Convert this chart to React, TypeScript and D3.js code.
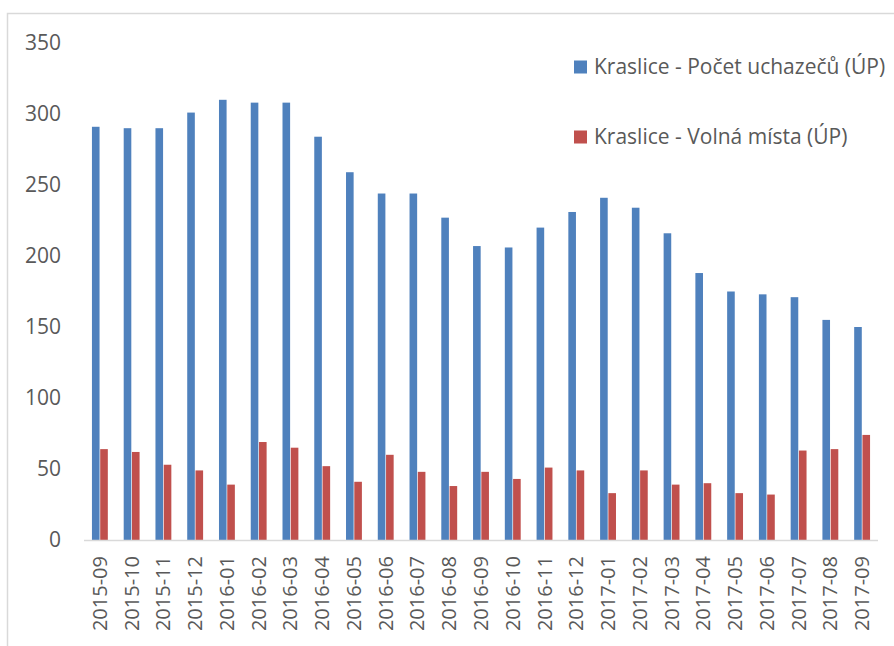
import React from "react";
import * as d3 from "d3";

const categories = ["2015-09","2015-10","2015-11","2015-12","2016-01","2016-02","2016-03","2016-04","2016-05","2016-06","2016-07","2016-08","2016-09","2016-10","2016-11","2016-12","2017-01","2017-02","2017-03","2017-04","2017-05","2017-06","2017-07","2017-08","2017-09"];
const uchazeci = [291,290,290,301,310,308,308,284,259,244,244,227,207,206,220,231,241,234,216,188,175,173,171,155,150];
const volnaMista = [64,62,53,49,39,69,65,52,41,60,48,38,48,43,51,49,33,49,39,40,33,32,63,64,74];
const seriesNames = ["Kraslice - Počet uchazečů (ÚP)", "Kraslice - Volná místa (ÚP)"];
const seriesColors = ["#4f81bd", "#c0504d"];
const yTicks = [0,50,100,150,200,250,300,350];

export default function App() {
  const W = 894, H = 646;
  const x = d3.scaleBand<string>().domain(categories).range([84, 878]).paddingInner(0.5).paddingOuter(0.25);
  const x1 = d3.scaleBand<string>().domain(["a","b"]).range([0, x.bandwidth()]).paddingInner(0.08);
  const y = d3.scaleLinear().domain([0, 350]).range([540, 43]);
  const font = "'Open Sans', sans-serif";
  const textColor = "#595959";
  const series = [uchazeci, volnaMista];
  return (
    <svg width={W} height={H} style={{ position: "absolute", left: 0, top: 0, background: "#fff" }} fontFamily={font}>
      <rect x={7.5} y={13.5} width={1000} height={1000} fill="#fff" stroke="#d9d9d9" strokeWidth={1.5} />
      {yTicks.map(t => (
        <text key={t} x={61} y={y(t)} dy="0.35em" textAnchor="end" fontSize={21} fill={textColor}>{t}</text>
      ))}
      {series.map((vals, si) => (
        <g key={si}>
          {vals.map((v, i) => (
            <rect key={i} x={(x(categories[i]) ?? 0) + (x1(si === 0 ? "a" : "b") ?? 0)} y={y(v)} width={x1.bandwidth()} height={y(0) - y(v)} fill={seriesColors[si]} />
          ))}
        </g>
      ))}
      <line x1={84} x2={878} y1={540.5} y2={540.5} stroke="#d9d9d9" strokeWidth={1.5} />
      {categories.map(c => {
        const cx = (x(c) ?? 0) + x.bandwidth() / 2;
        return (
          <text key={c} transform={`translate(${cx},556) rotate(-90)`} textAnchor="end" dy="0.35em" fontSize={20} fill={textColor}>{c}</text>
        );
      })}
      {seriesNames.map((n, i) => (
        <g key={n} transform={`translate(574,${67 + i * 70})`}>
          <rect x={0} y={-6.5} width={13} height={13} fill={seriesColors[i]} />
          <text x={20} y={0} dy="0.35em" fontSize={21} fill={textColor}>{n}</text>
        </g>
      ))}
    </svg>
  );
}
